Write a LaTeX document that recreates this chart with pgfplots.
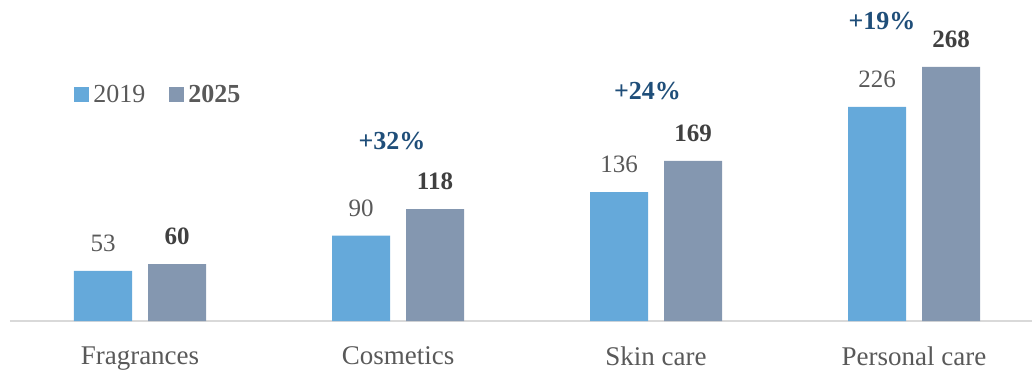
\documentclass[border=0pt]{standalone}
\usepackage{pgfplots}
\pgfplotsset{compat=1.18}
\usepackage{fontspec}
\setmainfont{Liberation Serif}
\definecolor{cA}{HTML}{65A9DA}
\definecolor{cB}{HTML}{8497B0}
\definecolor{txt}{HTML}{595959}
\definecolor{txtd}{HTML}{404040}
\definecolor{pct}{HTML}{1F4E79}
\definecolor{axl}{HTML}{D9D9D9}
\begin{document}
\begin{tikzpicture}
\useasboundingbox (0,0) rectangle (516pt,185pt);
\begin{axis}[
  /pgf/number format/assume math mode=true,
  at={(70pt,24.5pt)}, anchor=origin,
  x=129pt, y=0.474pt,
  xmin=-0.504, xmax=3.47, ymin=0, ymax=338,
  axis x line*=bottom, axis y line=none,
  axis line style={axl, line width=0.8pt, -},
  ybar=8pt, bar width=29pt,
  xtick={0,1,2,3},
  xticklabels={Fragrances,Cosmetics,Skin care,Personal care},
  xticklabel style={font=\fontsize{13.5}{15}\selectfont, text=txt, yshift=-9.5pt},
  major tick length=0pt,
  clip=false,
  legend columns=2,
  legend style={draw=none, fill=none, at={(axis cs:-0.279,238.4)}, anchor=west,
    font=\fontsize{13}{15}\selectfont, text=txt,
    /tikz/every even column/.append style={column sep=10pt}},
  legend image code/.code={\fill[#1] (0pt,-3.75pt) rectangle (7.5pt,3.75pt);},
]
\addplot[fill=cA, draw=none,
  nodes near coords={\textcolor{txt}{\pgfmathprintnumber{\pgfplotspointmeta}}},
  every node near coord/.append style={font=\fontsize{12.5}{14}\selectfont, anchor=south, inner sep=0pt, yshift=9.5pt}]
  coordinates {(0,53) (1,90) (2,136) (3,226)};
\addlegendentry{2019}
\addplot[fill=cB, draw=none,
  nodes near coords={\textcolor{txtd}{\textbf{\pgfmathprintnumber{\pgfplotspointmeta}}}},
  every node near coord/.append style={font=\fontsize{12.5}{14}\selectfont, anchor=south, inner sep=0pt, yshift=9.5pt}]
  coordinates {(0,60) (1,118) (2,169) (3,268)};
\addlegendentry{\textbf{2025}}
\node[anchor=base, inner sep=0pt, text=pct, font=\bfseries\fontsize{13}{15}\selectfont] at (axis cs:0.977,180.4) {+32\%};
\node[anchor=base, inner sep=0pt, text=pct, font=\bfseries\fontsize{13}{15}\selectfont] at (axis cs:1.967,234) {+24\%};
\node[anchor=base, inner sep=0pt, text=pct, font=\bfseries\fontsize{13}{15}\selectfont] at (axis cs:2.876,307) {+19\%};
\end{axis}
\end{tikzpicture}
\end{document}
